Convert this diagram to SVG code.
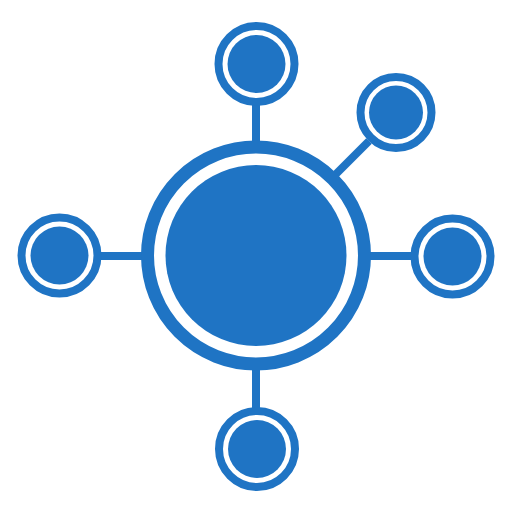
<svg xmlns="http://www.w3.org/2000/svg" width="512" height="512" viewBox="0 0 512 512">
<style>
.ring{fill:none;stroke:#1f74c4}
.fill{fill:#1f74c4}
.link{stroke:#1f74c4;stroke-width:8;stroke-linecap:butt}
</style>
<rect width="512" height="512" fill="#ffffff"/>
<g id="connectors">
<line class="link" x1="256" y1="105" x2="256" y2="142"/>
<line class="link" x1="256" y1="368" x2="256" y2="408"/>
<line class="link" x1="100" y1="256" x2="142" y2="256"/>
<line class="link" x1="370" y1="256" x2="412" y2="256"/>
<line class="link" x1="336" y1="174" x2="369" y2="141"/>
</g>
<g id="hub">
<circle class="ring" cx="256" cy="255.5" r="108.5" stroke-width="13"/>
<circle class="fill" cx="256" cy="255.5" r="90.5"/>
</g>
<g id="node-top">
<circle class="ring" cx="256.5" cy="64" r="38" stroke-width="8"/>
<circle class="fill" cx="256.5" cy="64" r="29"/>
</g>
<g id="node-topright">
<circle class="ring" cx="396" cy="112.5" r="35.5" stroke-width="8"/>
<circle class="fill" cx="396" cy="112.5" r="27"/>
</g>
<g id="node-left">
<circle class="ring" cx="59.5" cy="255.5" r="38" stroke-width="8"/>
<circle class="fill" cx="59.5" cy="255.5" r="29"/>
</g>
<g id="node-right">
<circle class="ring" cx="452.5" cy="256.5" r="38" stroke-width="8"/>
<circle class="fill" cx="452.5" cy="256.5" r="29"/>
</g>
<g id="node-bottom">
<circle class="ring" cx="257" cy="449" r="38" stroke-width="8"/>
<circle class="fill" cx="257" cy="449" r="29"/>
</g>
</svg>
